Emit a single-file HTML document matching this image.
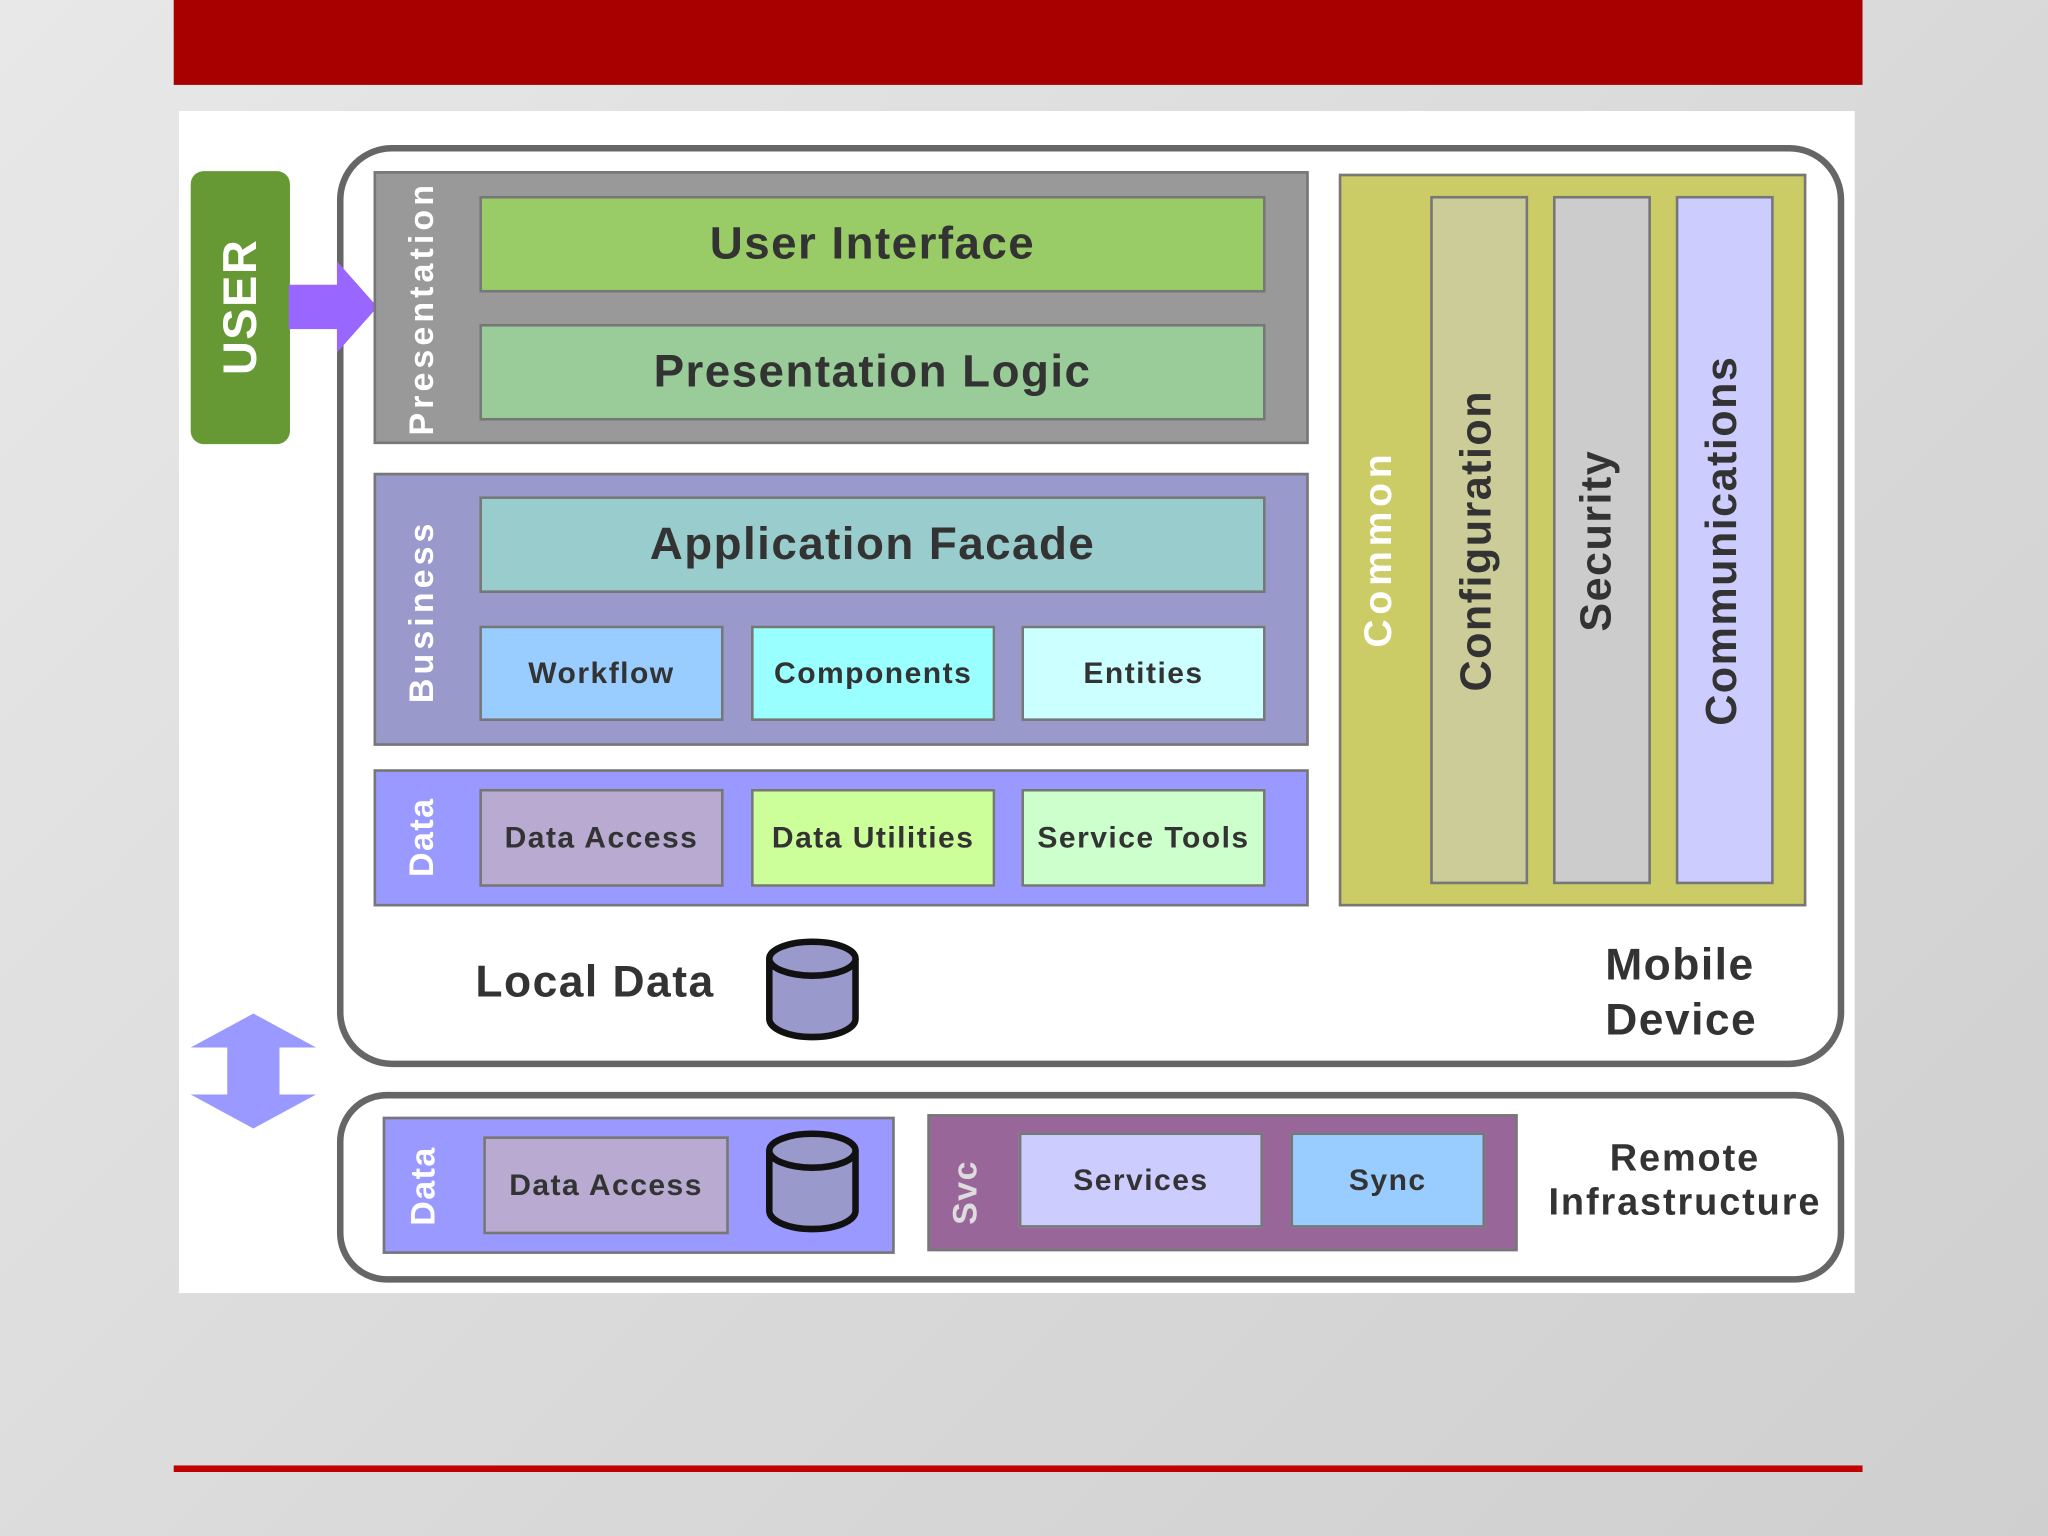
<!DOCTYPE html>
<html><head><meta charset="utf-8"><style>
html,body{margin:0;padding:0;width:2048px;height:1536px;overflow:hidden;background:#dcdcdc;}
#s{position:absolute;left:0;top:0;width:1568px;height:1176px;transform:scale(1.306122);transform-origin:0 0;
background:linear-gradient(135deg,#e8e8e8,#d8d8d8 60%,#cfcfcf);font-family:"Liberation Sans",sans-serif;font-weight:bold;letter-spacing:0.07em;}
.a{position:absolute;box-sizing:border-box;}
.b{border:2px solid #777;}
.t{display:flex;align-items:center;justify-content:center;color:#333;text-align:center;white-space:nowrap;}
.v{position:absolute;transform:translate(-50%,-50%) rotate(-90deg);white-space:nowrap;font-weight:bold;}
</style></head><body><div id="s">
<div class="a" style="left:133px;top:0;width:1293px;height:65px;background:#a80000"></div>
<div class="a" style="left:133px;top:1122px;width:1293px;height:5px;background:#c00000"></div>
<div class="a" style="left:137px;top:85px;width:1283px;height:905px;background:#fff"></div>

<div class="a" style="left:258px;top:111px;width:1154px;height:706px;border:5px solid #666;border-radius:42px"></div>
<div class="a" style="left:258px;top:836px;width:1154px;height:146px;border:5px solid #666;border-radius:38px"></div>

<div class="a" style="left:146px;top:131px;width:76px;height:209px;background:#669933;border-radius:10px"></div>
<div class="v" style="left:184px;top:235px;color:#fff;font-size:36px">USER</div>
<svg class="a" style="left:221px;top:200px" width="70" height="70"><polygon points="0,18 37,18 37,0 68,35 37,70 37,52 0,52" fill="#9966ff"/></svg>
<svg class="a" style="left:146px;top:776px" width="96" height="88"><polygon points="48,0 96,26 68,26 68,62 96,62 48,88 0,62 28,62 28,26 0,26" fill="#9999ff"/></svg>

<div class="a b" style="left:286px;top:131px;width:716px;height:209px;background:#999"></div>
<div class="v" style="left:323px;top:236px;color:#fff;font-size:26px;letter-spacing:0.12em">Presentation</div>
<div class="a b t" style="left:367px;top:150px;width:602px;height:74px;background:#99cc66;font-size:35px">User Interface</div>
<div class="a b t" style="left:367px;top:248px;width:602px;height:74px;background:#99cc99;font-size:35px">Presentation Logic</div>

<div class="a b" style="left:286px;top:362px;width:716px;height:209px;background:#9999cc"></div>
<div class="v" style="left:323px;top:468px;color:#fff;font-size:26px;letter-spacing:0.12em">Business</div>
<div class="a b t" style="left:367px;top:380px;width:602px;height:74px;background:#99cccc;font-size:35px">Application Facade</div>
<div class="a b t" style="left:367px;top:479px;width:187px;height:73px;background:#99ccff;font-size:23px">Workflow</div>
<div class="a b t" style="left:575px;top:479px;width:187px;height:73px;background:#99ffff;font-size:23px">Components</div>
<div class="a b t" style="left:782px;top:479px;width:187px;height:73px;background:#ccffff;font-size:23px">Entities</div>

<div class="a b" style="left:286px;top:589px;width:716px;height:105px;background:#9999ff"></div>
<div class="v" style="left:323px;top:641px;color:#fff;font-size:26px">Data</div>
<div class="a b t" style="left:367px;top:604px;width:187px;height:75px;background:#b8aad0;font-size:23px">Data Access</div>
<div class="a b t" style="left:575px;top:604px;width:187px;height:75px;background:#ccff99;font-size:23px">Data Utilities</div>
<div class="a b t" style="left:782px;top:604px;width:187px;height:75px;background:#ccffcc;font-size:23px">Service Tools</div>

<div class="a b" style="left:1025px;top:133px;width:358px;height:561px;background:#cccc66"></div>
<div class="v" style="left:1056px;top:420px;color:#fff;font-size:30px;letter-spacing:0.12em">Common</div>
<div class="a b" style="left:1095px;top:150px;width:75px;height:527px;background:#cccc99"></div>
<div class="v" style="left:1130px;top:414px;color:#333;font-size:33px">Configuration</div>
<div class="a b" style="left:1189px;top:150px;width:75px;height:527px;background:#cccccc"></div>
<div class="v" style="left:1222px;top:414px;color:#333;font-size:33px">Security</div>
<div class="a b" style="left:1283px;top:150px;width:75px;height:527px;background:#ccccff"></div>
<div class="v" style="left:1318px;top:414px;color:#333;font-size:33px">Communications</div>

<div class="a" style="left:364px;top:733px;font-size:34px;color:#333">Local Data</div>
<svg class="a" style="left:585px;top:718px" width="74" height="82"><path d="M4,16 L4,62 A33,14 0 0 0 70,62 L70,16" fill="#9999cc" stroke="#111" stroke-width="5"/><ellipse cx="37" cy="16" rx="33" ry="13" fill="#9999cc" stroke="#111" stroke-width="5"/></svg>
<div class="a" style="left:1229px;top:718px;font-size:34px;color:#333;line-height:42px">Mobile<br>Device</div>

<div class="a b" style="left:293px;top:855px;width:392px;height:105px;background:#9999ff"></div>
<div class="v" style="left:324px;top:908px;color:#fff;font-size:26px">Data</div>
<div class="a b t" style="left:370px;top:870px;width:188px;height:75px;background:#b8aad0;font-size:23px">Data Access</div>
<svg class="a" style="left:585px;top:865px" width="74" height="82"><path d="M4,16 L4,62 A33,14 0 0 0 70,62 L70,16" fill="#9999cc" stroke="#111" stroke-width="5"/><ellipse cx="37" cy="16" rx="33" ry="13" fill="#9999cc" stroke="#111" stroke-width="5"/></svg>
<div class="a b" style="left:710px;top:853px;width:452px;height:105px;background:#996699"></div>
<div class="v" style="left:739px;top:913px;color:#ddd;font-size:26px">Svc</div>
<div class="a b t" style="left:780px;top:867px;width:187px;height:73px;background:#ccccff;font-size:23px">Services</div>
<div class="a b t" style="left:988px;top:867px;width:149px;height:73px;background:#99ccff;font-size:23px">Sync</div>
<div class="a" style="left:1168px;top:870px;width:244px;text-align:center;font-size:29px;color:#333;line-height:34px;letter-spacing:0.05em">Remote<br>Infrastructure</div>
</div></body></html>
